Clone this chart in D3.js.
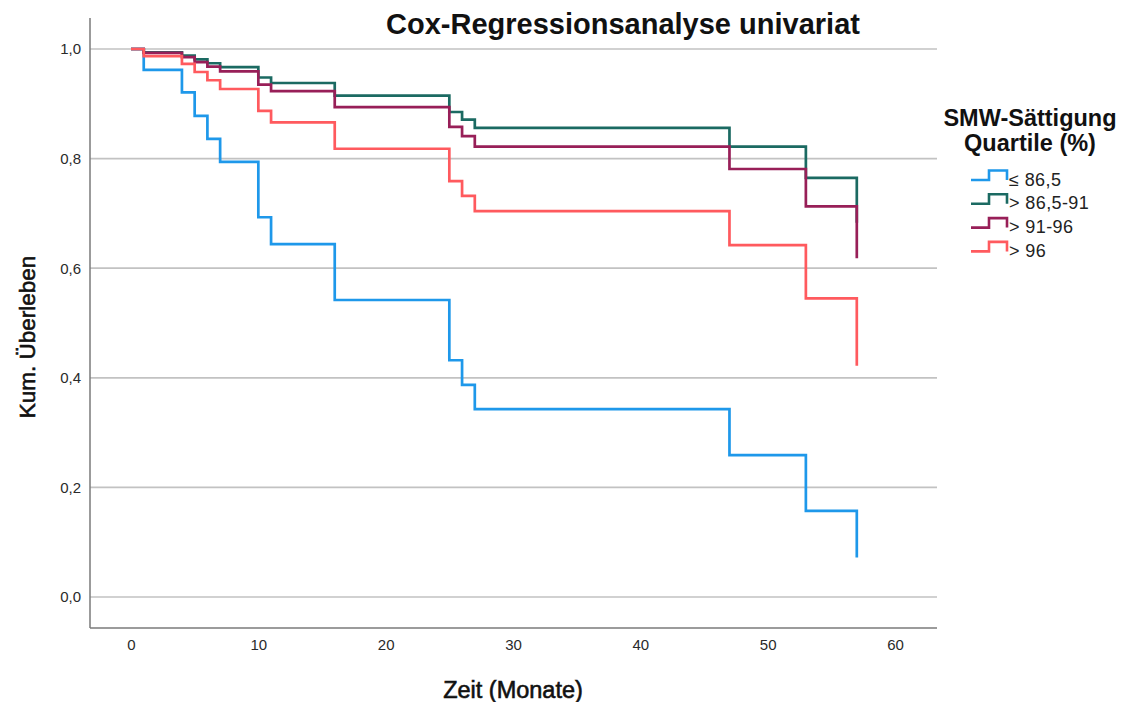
<!DOCTYPE html>
<html>
<head>
<meta charset="utf-8">
<script src="https://cdn.jsdelivr.net/npm/d3@7"></script>
<style>
  html, body { margin: 0; padding: 0; background: #fff; }
  svg { display: block; font-family: "Liberation Sans", Arial, sans-serif; }
</style>
</head>
<body>
<svg id="chart" width="1123" height="702"></svg>
<script>
// Event times (months) at which the estimated survival steps down
const times = [0, 1, 4, 5, 6, 7, 10, 11, 16, 25, 26, 27, 47, 53, 57];

// Cumulative survival per saturation quartile
const survLow    = [1, 0.962, 0.921, 0.878, 0.836, 0.794, 0.693, 0.644, 0.542, 0.432, 0.387, 0.343, 0.259, 0.157, 0.072];
const survMidLow = [1, 0.994, 0.988, 0.981, 0.974, 0.967, 0.948, 0.938, 0.915, 0.885, 0.871, 0.856, 0.822, 0.765, 0.683];
const survMidHi  = [1, 0.993, 0.985, 0.976, 0.968, 0.959, 0.935, 0.923, 0.894, 0.858, 0.841, 0.822, 0.781, 0.713, 0.618];
const survHigh   = [1, 0.987, 0.973, 0.958, 0.943, 0.927, 0.887, 0.866, 0.818, 0.759, 0.732, 0.704, 0.642, 0.545, 0.422];

const groupLabels = ["\u2264 86,5", "> 86,5-91", "> 91-96", "> 96"];
const groupColors = ["#1e98ea", "#1b6a62", "#981f58", "#ff5a5e"];

const xTicks = [0, 10, 20, 30, 40, 50, 60];
const yTicks = [0, 0.2, 0.4, 0.6, 0.8, 1.0];

const titleText = "Cox-Regressionsanalyse univariat";
const xTitle = "Zeit (Monate)";
const yTitle = "Kum. \u00dcberleben";
const legendTitle = ["SMW-S\u00e4ttigung", "Quartile (%)"];

const series = [survLow, survMidLow, survMidHi, survHigh];

const svg = d3.select("#chart");

const x = d3.scaleLinear().domain([0, 60]).range([131, 895]);
const y = d3.scaleLinear().domain([0, 1]).range([597, 49]);

const plotLeft = 90, plotRight = 937, plotBottom = 628, plotTop = 18;
const commaFmt = d => d3.format(".1f")(d).replace(".", ",");

// horizontal grid lines
svg.append("g")
  .selectAll("line")
  .data(yTicks)
  .join("line")
  .attr("x1", plotLeft).attr("x2", plotRight)
  .attr("y1", d => y(d)).attr("y2", d => y(d))
  .attr("stroke", "#c2c2c2")
  .attr("stroke-width", 1.7);

// y axis
const yAxis = d3.axisLeft(y).tickValues(yTicks).tickFormat(commaFmt).tickSize(0).tickPadding(9);
const gy = svg.append("g").attr("transform", `translate(${plotLeft},0)`).call(yAxis);
gy.select(".domain").remove();
gy.selectAll("text").attr("font-size", 15).attr("fill", "#2a2a2a").attr("font-family", "Liberation Sans, Arial, sans-serif");

// x axis
const xAxis = d3.axisBottom(x).tickValues(xTicks).tickFormat(d3.format("d")).tickSize(0).tickPadding(11);
const gx = svg.append("g").attr("transform", `translate(0,${plotBottom})`).call(xAxis);
gx.select(".domain").remove();
gx.selectAll("text").attr("font-size", 15).attr("fill", "#2a2a2a").attr("font-family", "Liberation Sans, Arial, sans-serif");

// axis frame lines
svg.append("line").attr("x1", plotLeft).attr("x2", plotLeft).attr("y1", plotTop).attr("y2", plotBottom)
  .attr("stroke", "#7a7a7a").attr("stroke-width", 1.5);
svg.append("line").attr("x1", plotLeft).attr("x2", plotRight).attr("y1", plotBottom).attr("y2", plotBottom)
  .attr("stroke", "#7a7a7a").attr("stroke-width", 1.5);

// survival step curves
const line = d3.line()
  .x(d => x(d[0]))
  .y(d => y(d[1]))
  .curve(d3.curveStepAfter);

svg.append("g")
  .selectAll("path")
  .data(series)
  .join("path")
  .attr("d", s => line(times.map((t, i) => [t, s[i]])))
  .attr("fill", "none")
  .attr("stroke", (s, i) => groupColors[i])
  .attr("stroke-width", 2.7)
  .attr("stroke-linejoin", "miter");

// title
svg.append("text")
  .attr("x", 623).attr("y", 34)
  .attr("text-anchor", "middle")
  .attr("font-size", 29).attr("font-weight", "bold").attr("fill", "#111")
  .text(titleText);

// axis titles
svg.append("text")
  .attr("x", 513).attr("y", 698)
  .attr("text-anchor", "middle")
  .attr("font-size", 23.5).attr("fill", "#111")
  .attr("stroke", "#111").attr("stroke-width", 0.6)
  .text(xTitle);

svg.append("text")
  .attr("transform", "translate(35,337) rotate(-90)")
  .attr("text-anchor", "middle")
  .attr("font-size", 22.5).attr("fill", "#111")
  .attr("stroke", "#111").attr("stroke-width", 0.6)
  .text(yTitle);

// legend
const lg = svg.append("g");
lg.selectAll("text.lt")
  .data(legendTitle)
  .join("text")
  .attr("class", "lt")
  .attr("x", 1030).attr("y", (d, i) => 126 + i * 25)
  .attr("text-anchor", "middle")
  .attr("font-size", 23.5).attr("font-weight", "bold").attr("fill", "#111")
  .text(d => d);

const items = lg.selectAll("g.item")
  .data(groupLabels)
  .join("g")
  .attr("class", "item")
  .attr("transform", (d, i) => `translate(0,${180 + i * 23.8})`);

items.append("path")
  .attr("d", "M971,0 H989 V-9.5 H1007 V0")
  .attr("fill", "none")
  .attr("stroke", (d, i) => groupColors[i])
  .attr("stroke-width", 2.6);

items.append("text")
  .attr("x", 1009).attr("y", 5.5)
  .attr("font-size", 18).attr("letter-spacing", 0.4).attr("fill", "#222")
  .text(d => d);
</script>
</body>
</html>
